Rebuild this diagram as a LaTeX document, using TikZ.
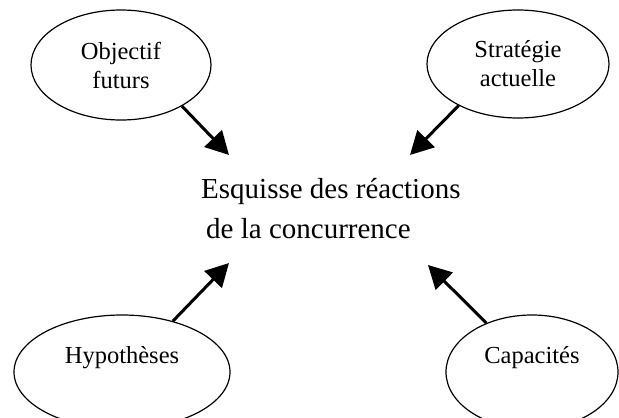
\documentclass[tikz,border=0pt]{standalone}
\usepackage{fontspec}
\setmainfont{Liberation Serif}
\usetikzlibrary{arrows.meta,shapes.geometric}
\begin{document}
\begin{tikzpicture}[x=1pt,y=-1pt,
  bubble/.style={draw, ellipse, line width=1.2pt, inner sep=0pt, font=\fontsize{24.5}{29}\selectfont, align=center},
  link/.style={line width=3pt, -{Triangle[length=23pt,width=24pt]}},
  maintext/.style={anchor=base west, inner sep=0pt, font=\fontsize{29}{35}\selectfont}]
\useasboundingbox (0,0) rectangle (619,418);
\node[bubble, minimum width=180pt, minimum height=110pt] (o1) at (121,65) {Objectif\\futurs};
\node[bubble, minimum width=182pt, minimum height=108pt] (o2) at (518,64) {Stratégie\\actuelle};
\node[bubble, minimum width=216pt, minimum height=114pt, text height=6pt, text depth=24pt] (o3) at (122,372) {Hypothèses};
\node[bubble, minimum width=172pt, minimum height=114pt, text height=6pt, text depth=24pt] (o4) at (532,372) {Capacités};
\node[maintext] (m1) at (201,198) {Esquisse des réactions};
\node[maintext] (m2) at (206,238) {de la concurrence};
\coordinate (t1) at (229,155);
\coordinate (t2) at (410,155);
\coordinate (t3) at (229,263);
\coordinate (t4) at (428,265);
\draw[link] (o1.-34) -- (t1);
\draw[link] (o2.-145) -- (t2);
\draw[link] (o3.45) -- (t3);
\draw[link] (o4.133) -- (t4);
\end{tikzpicture}
\end{document}
